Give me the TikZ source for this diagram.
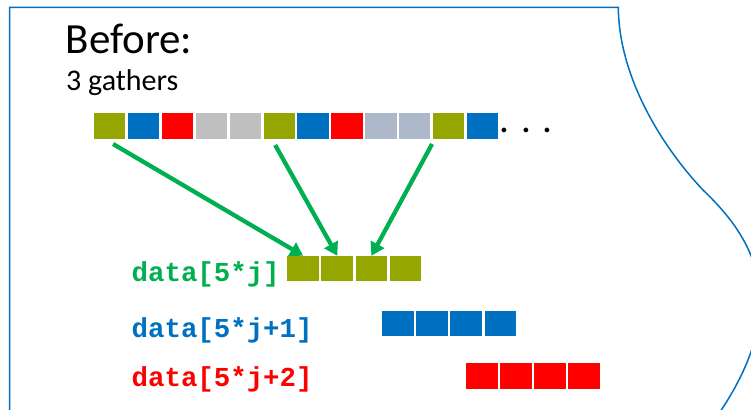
\documentclass[tikz,border=0pt]{standalone}
\usepackage{fontspec}
\setmainfont{Carlito}
\newfontfamily\codefont{Liberation Mono}
\usetikzlibrary{arrows.meta,calc}
\definecolor{cOl}{HTML}{95A600}
\definecolor{cBl}{HTML}{0070C0}
\definecolor{cRd}{HTML}{FF0000}
\definecolor{cGr}{HTML}{BFBFBF}
\definecolor{cBg}{HTML}{ADB9CA}
\definecolor{cGn}{HTML}{00B050}
\tikzset{
  cell/.style={fill=#1, inner sep=0pt, outer sep=0pt, minimum width=31.3pt, minimum height=26pt},
  cellb/.style={fill=#1, inner sep=0pt, outer sep=0pt, minimum width=31.8pt, minimum height=25.5pt},
  gather/.style={draw=cGn, line width=4.3pt, -{Triangle[width=15pt,length=13pt]}},
  codelbl/.style={anchor=base west, inner sep=0pt, font=\codefont\bfseries\fontsize{27.4}{30}\selectfont},
}
\begin{document}
\begin{tikzpicture}[x=1pt,y=-1pt]
\useasboundingbox (0,0) rectangle (751,409);
\clip (0,0) rectangle (751,409);
% outline
\draw[cBl, line width=1.5pt] (9.6,412) -- (9.6,7.5) -- (618.3,7.5)
  .. controls (619,80) and (665,150) .. (703,190)
  .. controls (750,235) and (795,300) .. (720,412);
% titles
\node[anchor=base west, inner sep=0pt, font=\fontsize{43}{50}\selectfont] (title) at (65.5,54) {Before:};
\node[anchor=base west, inner sep=0pt, font=\fontsize{30}{36}\selectfont] (sub) at (66,91) {3 gathers};
% top row
\foreach \c [count=\i from 0] in {cOl,cBl,cRd,cGr,cGr,cOl,cBl,cRd,cBg,cBg,cOl,cBl}
  \node[cell=\c] (t\i) at ({94+\i*33.9+15.65},126) {};
\node[anchor=base west, inner sep=0pt, font=\fontsize{39}{46}\selectfont] (dots) at (499.5,132.5) {. . .};
% result rows
\foreach \i in {0,1,2,3} {
  \node[cellb=cOl] (g\i) at ({287.3+\i*34.1+15.9},268.5) {};
  \node[cellb=cBl] (b\i) at ({382.2+\i*34.1+15.9},323.5) {};
  \node[cellb=cRd] (r\i) at ({466+\i*34.1+15.9},376) {};
}
% labels
\node[codelbl, text=cGn] (l0) at (131.5,281) {data[5*j]};
\node[codelbl, text=cBl] (l1) at (131.5,337) {data[5*j+1]};
\node[codelbl, text=cRd] (l2) at (131.5,386) {data[5*j+2]};
% arrows
\coordinate (s0) at ($(t0.south)+(3.4,5)$);
\coordinate (s1) at ($(t5.south)+(-4,6)$);
\coordinate (s2) at ($(t10.south)+(-16.6,5)$);
\draw[gather] (s0) -- (g0.north);
\draw[gather] (s1) -- (g1.north);
\draw[gather] (s2) -- (g2.north);
\end{tikzpicture}
\end{document}
